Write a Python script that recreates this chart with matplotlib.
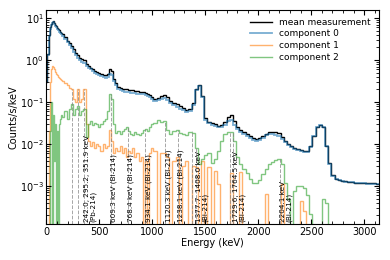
import numpy as np
import matplotlib
matplotlib.use("Agg")
import matplotlib.pyplot as plt

# bin edges: 10 keV up to 150, 20 keV up to 1010, 30 keV up to 3140
edges = np.concatenate([np.arange(0, 150, 10), np.arange(150, 1010, 20), np.arange(1010, 3141, 30)])

mean_meas = [
    0.3, 1.4, 4.0, 6.0, 7.2, 8.0, 8.5, 7.8, 7.0, 6.4, 5.9, 5.5, 5.1, 4.8, 4.5,
    4.1, 3.5, 2.9, 2.5, 2.15, 1.8, 1.45, 1.3, 1.15, 1.05, 1.0, 0.83, 0.73, 0.66, 0.6,
    0.55, 0.51, 0.48, 0.46, 0.45, 0.43, 0.47, 0.63, 0.56, 0.36, 0.28, 0.235, 0.215, 0.205, 0.2,
    0.2, 0.195, 0.19, 0.19, 0.185, 0.18, 0.178, 0.175, 0.172, 0.168, 0.16, 0.145, 0.13,
    0.12, 0.125, 0.14, 0.15, 0.13, 0.107, 0.095, 0.089, 0.079, 0.071, 0.064, 0.068, 0.095, 0.2,
    0.25, 0.14, 0.042, 0.034, 0.032, 0.030, 0.0275, 0.029, 0.033, 0.045, 0.048, 0.035, 0.026,
    0.022, 0.0195, 0.0174, 0.0155, 0.0138, 0.0132, 0.0138, 0.0158, 0.0178, 0.019, 0.0195, 0.0195,
    0.018, 0.015, 0.012, 0.010, 0.0089, 0.0081, 0.0076, 0.0072, 0.0069, 0.0068, 0.0089, 0.0158,
    0.026, 0.028, 0.025, 0.0089, 0.0035, 0.0018, 0.0015, 0.00138, 0.00132, 0.00129, 0.00126,
    0.00123, 0.0012, 0.0012, 0.00117, 0.00117, 0.00115, 0.00115, 0.00115, 0.00113,
]

comp0 = [
    0.3, 1.35, 3.7, 5.6, 6.8, 7.5, 7.9, 7.3, 6.6, 6.0, 5.6, 5.2, 4.8, 4.5, 4.2,
    3.8, 3.2, 2.65, 2.25, 1.9, 1.6, 1.3, 1.15, 1.02, 0.92, 0.85, 0.74, 0.66, 0.6, 0.54,
    0.5, 0.46, 0.43, 0.41, 0.4, 0.385, 0.4, 0.46, 0.43, 0.31, 0.25, 0.21, 0.19, 0.182, 0.177,
    0.176, 0.172, 0.168, 0.168, 0.163, 0.16, 0.158, 0.155, 0.152, 0.148, 0.142, 0.13, 0.117,
    0.107, 0.11, 0.12, 0.125, 0.113, 0.095, 0.084, 0.078, 0.07, 0.063, 0.057, 0.06, 0.085, 0.19,
    0.24, 0.13, 0.038, 0.031, 0.029, 0.0275, 0.025, 0.026, 0.028, 0.035, 0.037, 0.029, 0.023,
    0.0195, 0.0175, 0.0157, 0.014, 0.0125, 0.012, 0.0125, 0.0142, 0.016, 0.017, 0.0172, 0.0168,
    0.0155, 0.0133, 0.011, 0.0094, 0.0084, 0.0076, 0.0071, 0.0067, 0.0064, 0.0064, 0.0086, 0.0155,
    0.0258, 0.0278, 0.0248, 0.0088, 0.0034, 0.00175, 0.00147, 0.00136, 0.0013, 0.00127, 0.00124,
    0.00121, 0.00119, 0.00119, 0.00116, 0.00116, 0.00114, 0.00114, 0.00114, 0.00112,
]

comp1 = [
    0, 0, 0.02, 0.3, 0.6, 0.72, 0.7, 0.6, 0.52, 0.47, 0.43, 0.4, 0.38, 0.36, 0.34,
    0.32, 0.28, 0.25, 0.22, 0.2, 0.12, 0.1, 0.2, 0.1, 0.12, 0.2, 0.03, 0.012, 0.009, 0.011,
    0.008, 0.01, 0.009, 0.007, 0.01, 0.008, 0.009, 0.022, 0.012, 0.006, 0.008, 0.007, 0.009, 0.006, 0.008,
    0.005, 0.007, 0.006, 0.008, 0.005, 0.006, 0.004, 0.005, 0, 0.004, 0, 0.006, 0.008,
    0.007, 0, 0.006, 0.006, 0.005, 0, 0.004, 0.005, 0, 0.003, 0.004, 0, 0.003, 0.0028,
    0, 0.004, 0, 0.0028, 0, 0.0023, 0.0011, 0, 0, 0, 0.002, 0, 0,
    0.0022, 0, 0, 0, 0, 0, 0, 0, 0.00065, 0, 0, 0,
    0, 0.0011, 0, 0, 0, 0, 0, 0.00044, 0.00025, 0, 0, 0,
    0, 0, 0, 0, 0, 0, 0, 0, 0, 0, 0,
    0, 0, 0, 0, 0, 0, 0, 0, 0,
]

comp2 = [
    0, 0, 0, 0.02, 0.1, 0, 0.05, 0.004, 0.03, 0, 0.02, 0, 0.03, 0.04, 0.05,
    0.045, 0.06, 0.04, 0.07, 0.09, 0.05, 0.07, 0.08, 0.05, 0.06, 0.07, 0.015, 0.03, 0.035, 0.028,
    0.032, 0.03, 0.026, 0.03, 0.035, 0.04, 0.06, 0.16, 0.12, 0.03, 0.018, 0.02, 0.017, 0.02, 0.023,
    0.025, 0.02, 0.017, 0.016, 0.019, 0.017, 0.016, 0.018, 0.022, 0.023, 0.02, 0.025, 0.03,
    0.032, 0.038, 0.034, 0.036, 0.022, 0.017, 0.02, 0.021, 0.018, 0.017, 0.016, 0.019, 0.018, 0.008,
    0.0034, 0.0045, 0.0055, 0.006, 0.0035, 0.0045, 0.007, 0.012, 0.017, 0.019, 0.019, 0.012, 0.005,
    0.0034, 0.0025, 0.002, 0.0015, 0.0012, 0.0012, 0.0014, 0.0019, 0.0025, 0.0033, 0.0037, 0.0042,
    0.0043, 0.0033, 0.0012, 0.0005, 0, 0.00075, 0.001, 0.001, 0.0009, 0.0006, 0.00022, 0,
    0, 0, 0.0005, 0.0004, 0, 0, 0, 0, 0, 0, 0,
    0, 0, 0, 0, 0, 0, 0, 0, 0,
]

line_groups = [[242.0, 295.2, 351.9], [609.3], [768.4], [934.1], [1120.3], [1238.1],
               [1377.7, 1408.0], [1729.6, 1764.5], [2204.1]]
line_tops = [[0.2, 0.2, 0.2], [0.16], [0.025], [0.023], [0.036], [0.021],
             [0.02, 0.008], [0.019, 0.019], [0.0043]]
line_labels = ["242.0, 295.2, 351.9 keV\n(Pb-214)", "609.3 keV (Bi-214)", "768.4 keV (Bi-214)",
               "934.1 keV (Bi-214)", "1120.3 keV (Bi-214)", "1238.1 keV (Bi-214)",
               "1377.7, 1408.0 keV\n(Bi-214)", "1729.6, 1764.5 keV\n(Bi-214)", "2204.1 keV\n(Bi-214)"]

plt.rcParams['font.size'] = 7
fig = plt.figure(figsize=(3.9, 2.6), dpi=100)
ax = fig.add_axes([0.119, 0.138, 0.853, 0.825])
ax.set_yscale('log')

ax.stairs(mean_meas, edges, baseline=None, color='k', lw=1.0, label='mean measurement')
ax.stairs(comp0, edges, baseline=None, color='C0', lw=1.3, alpha=0.6, label='component 0')
ax.stairs(comp1, edges, baseline=None, color='C1', lw=1.0, alpha=0.6, label='component 1')
ax.stairs(comp2, edges, baseline=None, color='C2', lw=1.0, alpha=0.6, label='component 2')

ymin = 1.23e-4
for energies, tops, label in zip(line_groups, line_tops, line_labels):
    for e, t in zip(energies, tops):
        ax.vlines(e, ymin, t, color='gray', ls='--', lw=0.7, alpha=0.7)
    ax.text(energies[-1], 1.35e-4, label, rotation=90, ha='left', va='bottom',
            fontsize=5.2, linespacing=1.0)

ax.set_xlim(0, 3140)
ax.set_ylim(ymin, 16)
ax.set_xlabel('Energy (keV)', labelpad=1)
ax.set_ylabel('Counts/s/keV', labelpad=1)
ax.minorticks_on()
ax.tick_params(which='both', direction='in', top=True, right=True)
ax.tick_params(which='major', length=3.5, pad=2)
ax.tick_params(which='minor', length=2)
ax.legend(loc='upper right', frameon=False, fontsize=6.5, handlelength=2.5, labelspacing=0.3)

fig.savefig('out.png', dpi=100)
